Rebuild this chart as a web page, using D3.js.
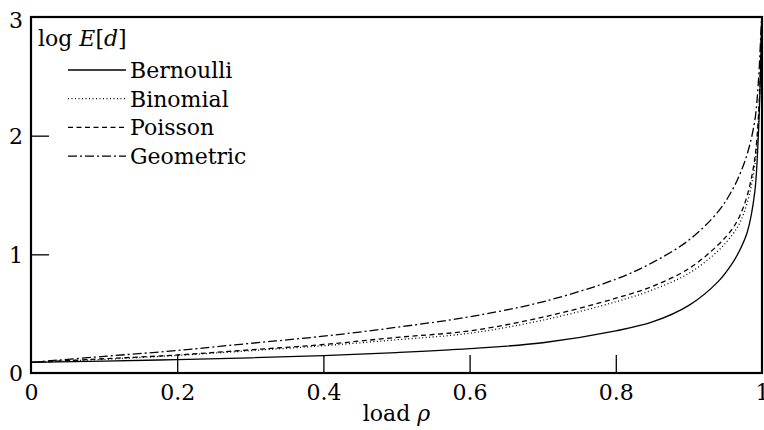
<!DOCTYPE html>
<html>
<head>
<meta charset="utf-8">
<script src="https://cdn.jsdelivr.net/npm/d3@7"></script>
<style>
  body { margin: 0; background: #fff; }
  svg { display: block; }
  text { font-family: "DejaVu Serif", "Liberation Serif", serif; fill: #000; }
</style>
</head>
<body>
<script>
var rho = [0, 0.1, 0.2, 0.3, 0.4, 0.5, 0.6, 0.7, 0.8, 0.85, 0.9, 0.94, 0.96, 0.97, 0.98, 0.99, 0.995, 0.998, 0.9995]

// log E[d] for each arrival process
var bernoulli = [0.09, 0.10, 0.113, 0.128, 0.147, 0.172, 0.205, 0.255, 0.355, 0.43, 0.57, 0.77, 0.93, 1.04, 1.19, 1.52, 2.0, 2.55, 2.95]
var binomial  = [0.09, 0.115, 0.148, 0.188, 0.23, 0.28, 0.335, 0.445, 0.60, 0.70, 0.84, 1.03, 1.17, 1.27, 1.44, 1.74, 2.1, 2.55, 2.95]
var poisson   = [0.09, 0.12, 0.152, 0.195, 0.24, 0.30, 0.355, 0.47, 0.63, 0.73, 0.88, 1.08, 1.22, 1.33, 1.50, 1.80, 2.15, 2.6, 2.95]
var geometric = [0.09, 0.14, 0.19, 0.25, 0.31, 0.385, 0.474, 0.60, 0.79, 0.93, 1.12, 1.36, 1.55, 1.68, 1.85, 2.12, 2.45, 2.8, 3.0]

var xTicks = [0, 0.2, 0.4, 0.6, 0.8, 1]
var yTicks = [0, 1, 2, 3]

var seriesNames = ['Bernoulli', 'Binomial', 'Poisson', 'Geometric']
var seriesValues = [bernoulli, binomial, poisson, geometric]
var dashes = [null, '1,2.5', '5,3.5', '9,3,2,3']

var options = {
  width: 764,
  height: 430,
  left: 31,
  right: 762,
  top: 17,
  bottom: 373,
  tick: 18,
  fontSize: '22px'
}

var svg = d3.select('body').append('svg')
  .attr('width', options.width)
  .attr('height', options.height)

var x = d3.scaleLinear().domain([0, 1]).range([options.left, options.right])
var y = d3.scaleLinear().domain([0, 3]).range([options.bottom, options.top])

svg.append('clipPath').attr('id', 'plot')
  .append('rect')
  .attr('x', options.left).attr('y', options.top)
  .attr('width', options.right - options.left)
  .attr('height', options.bottom - options.top)

function tickText(d) {
  return Number.isInteger(d) ? d3.format('d')(d) : d3.format('.1f')(d)
}

// x axis: inward ticks, labels below
var xAxis = svg.append('g')
  .attr('transform', 'translate(0,' + options.bottom + ')')
  .call(d3.axisBottom(x).tickValues(xTicks).tickSize(-options.tick).tickPadding(0).tickFormat(tickText))
xAxis.select('.domain').remove()
xAxis.selectAll('line').attr('stroke', '#000').attr('stroke-width', 1.3)
  .filter(function(d) { return d === 0 || d === 1 }).remove()
xAxis.selectAll('text')
  .attr('y', 27).attr('dy', 0)
  .style('font-size', options.fontSize)

// y axis
var yAxis = svg.append('g')
  .attr('transform', 'translate(' + options.left + ',0)')
  .call(d3.axisLeft(y).tickValues(yTicks).tickSize(-options.tick).tickPadding(0).tickFormat(tickText))
yAxis.select('.domain').remove()
yAxis.selectAll('line').attr('stroke', '#000').attr('stroke-width', 1.3)
  .filter(function(d) { return d === 0 || d === 3 }).remove()
yAxis.selectAll('text')
  .attr('x', -8).attr('dy', '0.36em')
  .style('font-size', options.fontSize)
// top label sits a bit lower, as in the original
yAxis.selectAll('.tick').filter(function(d) { return d === 3 })
  .select('text').attr('y', 3)

// curves
var line = d3.line()
  .x(function(d) { return x(d[0]) })
  .y(function(d) { return y(d[1]) })
  .curve(d3.curveCatmullRom.alpha(0.5))

var curves = svg.append('g').attr('clip-path', 'url(#plot)')
seriesValues.forEach(function(vals, i) {
  var pts = rho.map(function(r, j) { return [r, vals[j]] })
  curves.append('path')
    .datum(pts)
    .attr('d', line)
    .attr('fill', 'none')
    .attr('stroke', '#000')
    .attr('stroke-width', 1.3)
    .attr('stroke-dasharray', dashes[i])
})

// frame
svg.append('rect')
  .attr('x', options.left).attr('y', options.top)
  .attr('width', options.right - options.left)
  .attr('height', options.bottom - options.top)
  .attr('fill', 'none')
  .attr('stroke', '#000')
  .attr('stroke-width', 2.2)

// y label inside the frame
var ylab = svg.append('text').attr('x', 38).attr('y', 46).style('font-size', options.fontSize)
ylab.append('tspan').text('log ')
ylab.append('tspan').style('font-style', 'italic').text('E')
ylab.append('tspan').text('[')
ylab.append('tspan').style('font-style', 'italic').text('d')
ylab.append('tspan').text(']')

// x label
var xlab = svg.append('text')
  .attr('x', (options.left + options.right) / 2)
  .attr('y', 421)
  .attr('text-anchor', 'middle')
  .style('font-size', options.fontSize)
xlab.append('tspan').text('load ')
xlab.append('tspan').style('font-style', 'italic').text('ρ')

// legend
var legend = svg.append('g')
seriesNames.forEach(function(name, i) {
  var ly = 70 + i * 28.7
  legend.append('line')
    .attr('x1', 68).attr('x2', 126)
    .attr('y1', ly).attr('y2', ly)
    .attr('stroke', '#000')
    .attr('stroke-width', 1.3)
    .attr('stroke-dasharray', dashes[i])
  legend.append('text')
    .attr('x', 130).attr('y', ly + 8)
    .style('font-size', options.fontSize)
    .text(name)
})
</script>
</body>
</html>
